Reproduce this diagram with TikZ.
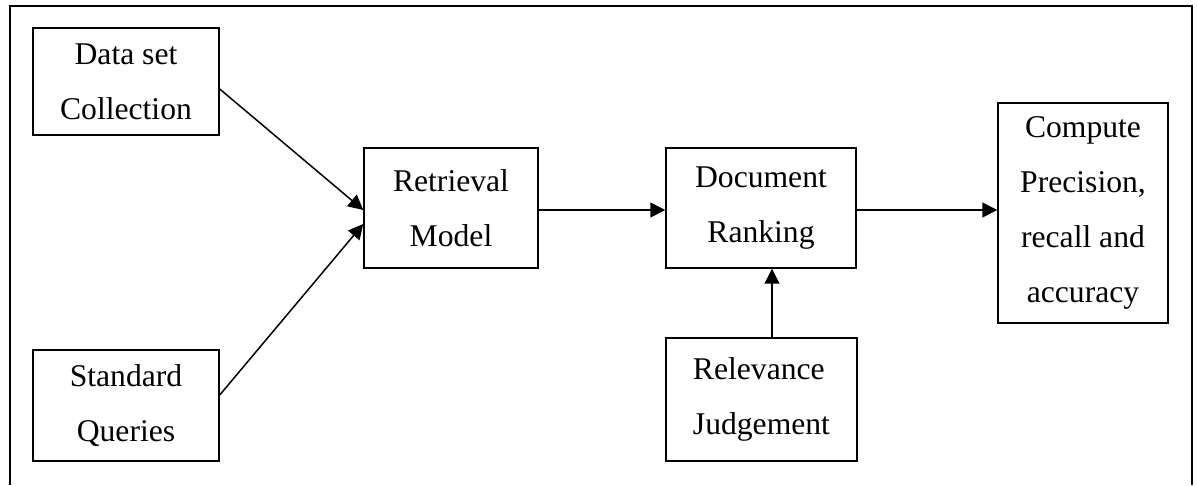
\documentclass[tikz,border=0pt]{standalone}
\usepackage{fontspec}
\setmainfont{Liberation Serif}
\usetikzlibrary{arrows.meta}

\begin{document}
\begin{tikzpicture}[x=0.02cm,y=-0.02cm,
                    main node/.style={rectangle,draw,line width=0.85pt,align=center,inner sep=0pt,font=\fontsize{18}{31.3}\selectfont},
                    flow/.style={-{Triangle[length=8.5pt,width=8.5pt]},line width=0.85pt}]

 \useasboundingbox (0,0) rectangle (1197,485);
 \draw[line width=1.1pt] (10,485) -- (10,6) -- (1192,6) -- (1192,485);

 \node[main node,minimum width=3.72cm,minimum height=2.14cm] (data) at (126,81.5) {Data set\\Collection};

 \node[main node,minimum width=3.72cm,minimum height=2.22cm] (query) at (126,405.5) {Standard\\Queries};

 \node[main node,minimum width=3.48cm,minimum height=2.4cm] (retr) at (451,208) {Retrieval\\Model};

 \node[main node,minimum width=3.8cm,minimum height=2.4cm] (rank) at (761,208) {Document\\Ranking};

 \node[main node,align=left,minimum width=3.82cm,minimum height=2.46cm] (judge) at (761.5,399.5) {Relevance\\Judgement};

 \node[main node,minimum width=3.4cm,minimum height=4.4cm] (comp) at (1083,213) {Compute\\Precision,\\recall and\\accuracy};

 \draw[flow] ([yshift=-0.15cm]data.east) -- ([yshift=-0.04cm]retr.west);
 \draw[flow] ([yshift=0.21cm]query.east) -- ([yshift=-0.32cm]retr.west);
 \draw[flow] ([yshift=-0.04cm]retr.east) -- ([yshift=-0.04cm]rank.west);
 \draw[flow] ([yshift=-0.04cm]rank.east) -- ([yshift=-0.04cm]rank.east -| comp.west);
 \draw[flow] ([xshift=0.21cm]judge.north) -- ([xshift=0.21cm]judge.north |- rank.south);

\end{tikzpicture}
\end{document}
